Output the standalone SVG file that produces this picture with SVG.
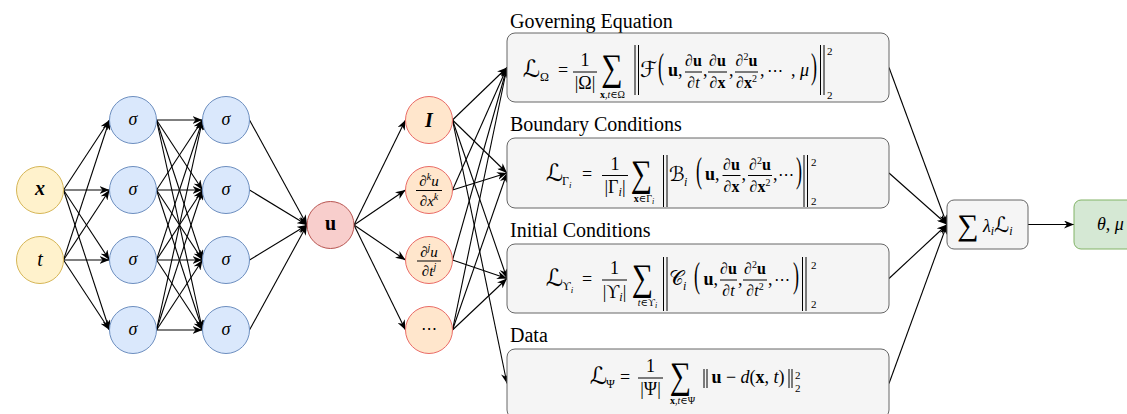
<svg xmlns="http://www.w3.org/2000/svg" width="1127" height="414" viewBox="0 0 1127 414">
<defs>
<marker id="a" viewBox="0 0 10 8" refX="10" refY="4" markerWidth="10" markerHeight="8" markerUnits="userSpaceOnUse" orient="auto"><path d="M0,0 L10,4 L0,8 L3,4 z" fill="#000"/></marker>
<style>
.ln{stroke:#000;stroke-width:1.1;marker-end:url(#a);fill:none}
.bar{stroke:#000;stroke-width:1}
.nb{stroke:#000;stroke-width:1}
.m{font-family:"Liberation Serif","DejaVu Serif","DejaVu Sans",serif;font-size:18px;fill:#000}
.f{font-size:16px}
.s{font-size:12px}
.sg{font-size:30px}
.it{font-style:italic}
.bf{font-weight:bold}
.c{text-anchor:middle}
.ttl{font-family:"Liberation Serif","Times New Roman",serif;font-size:20px;fill:#000}
.box{fill:#f5f5f5;stroke:#666666;stroke-width:1}
.inp{fill:#fff2cc;stroke:#d6b656;stroke-width:1}
.hid{fill:#dae8fc;stroke:#6c8ebf;stroke-width:1}
.uu{fill:#f8cecc;stroke:#b85450;stroke-width:1}
.der{fill:#ffe6cc;stroke:#ea6b66;stroke-width:1}
.out{fill:#d5e8d4;stroke:#82b366;stroke-width:1}
</style>
</defs>
<rect width="1127" height="414" fill="#ffffff"/>

<g id="connectors">
<line class="ln" x1="63.5" y1="190" x2="109.5" y2="120"/>
<line class="ln" x1="63.5" y1="190" x2="109.5" y2="190"/>
<line class="ln" x1="63.5" y1="190" x2="109.5" y2="260"/>
<line class="ln" x1="63.5" y1="190" x2="109.5" y2="330"/>
<line class="ln" x1="63.5" y1="260" x2="109.5" y2="120"/>
<line class="ln" x1="63.5" y1="260" x2="109.5" y2="190"/>
<line class="ln" x1="63.5" y1="260" x2="109.5" y2="260"/>
<line class="ln" x1="63.5" y1="260" x2="109.5" y2="330"/>

<line class="ln" x1="156.5" y1="120" x2="202.5" y2="120"/>
<line class="ln" x1="156.5" y1="120" x2="202.5" y2="190"/>
<line class="ln" x1="156.5" y1="120" x2="202.5" y2="260"/>
<line class="ln" x1="156.5" y1="120" x2="202.5" y2="330"/>
<line class="ln" x1="156.5" y1="190" x2="202.5" y2="120"/>
<line class="ln" x1="156.5" y1="190" x2="202.5" y2="190"/>
<line class="ln" x1="156.5" y1="190" x2="202.5" y2="260"/>
<line class="ln" x1="156.5" y1="190" x2="202.5" y2="330"/>
<line class="ln" x1="156.5" y1="260" x2="202.5" y2="120"/>
<line class="ln" x1="156.5" y1="260" x2="202.5" y2="190"/>
<line class="ln" x1="156.5" y1="260" x2="202.5" y2="260"/>
<line class="ln" x1="156.5" y1="260" x2="202.5" y2="330"/>
<line class="ln" x1="156.5" y1="330" x2="202.5" y2="120"/>
<line class="ln" x1="156.5" y1="330" x2="202.5" y2="190"/>
<line class="ln" x1="156.5" y1="330" x2="202.5" y2="260"/>
<line class="ln" x1="156.5" y1="330" x2="202.5" y2="330"/>

<line class="ln" x1="249.5" y1="120" x2="307" y2="225"/>
<line class="ln" x1="249.5" y1="190" x2="307" y2="225"/>
<line class="ln" x1="249.5" y1="260" x2="307" y2="225"/>
<line class="ln" x1="249.5" y1="330" x2="307" y2="225"/>

<line class="ln" x1="354" y1="225" x2="405.5" y2="120"/>
<line class="ln" x1="354" y1="225" x2="405.5" y2="190"/>
<line class="ln" x1="354" y1="225" x2="405.5" y2="260"/>
<line class="ln" x1="354" y1="225" x2="405.5" y2="330"/>

<line class="ln" x1="452.5" y1="120" x2="507" y2="67.5"/>
<line class="ln" x1="452.5" y1="120" x2="507" y2="173"/>
<line class="ln" x1="452.5" y1="120" x2="507" y2="278.5"/>
<line class="ln" x1="452.5" y1="120" x2="507" y2="383.5"/>
<line class="ln" x1="452.5" y1="190" x2="507" y2="67.5"/>
<line class="ln" x1="452.5" y1="190" x2="507" y2="173"/>
<line class="ln" x1="452.5" y1="260" x2="507" y2="67.5"/>
<line class="ln" x1="452.5" y1="260" x2="507" y2="278.5"/>
<line class="ln" x1="452.5" y1="330" x2="507" y2="67.5"/>
<line class="ln" x1="452.5" y1="330" x2="507" y2="173"/>
<line class="ln" x1="452.5" y1="330" x2="507" y2="278.5"/>

<line class="ln" x1="889" y1="67.5" x2="947" y2="224.5"/>
<line class="ln" x1="889" y1="173" x2="947" y2="224.5"/>
<line class="ln" x1="889" y1="278.5" x2="947" y2="224.5"/>
<line class="ln" x1="889" y1="383.5" x2="947" y2="224.5"/>

<line class="ln" x1="1028" y1="224.5" x2="1074" y2="224.5"/>
</g>

<g id="in-x"><circle class="inp" cx="40" cy="190" r="23.5"/><text class="m c it bf" x="40" y="195" style="font-size:20px">x</text></g>
<g id="in-t"><circle class="inp" cx="40" cy="260" r="23.5"/><text class="m c it" x="40" y="266" style="font-size:20px">t</text></g>

<g id="h1-1"><circle class="hid" cx="133" cy="120" r="23.5"/><text class="m c it" x="133" y="125">σ</text></g>
<g id="h1-2"><circle class="hid" cx="133" cy="190" r="23.5"/><text class="m c it" x="133" y="195">σ</text></g>
<g id="h1-3"><circle class="hid" cx="133" cy="260" r="23.5"/><text class="m c it" x="133" y="265">σ</text></g>
<g id="h1-4"><circle class="hid" cx="133" cy="330" r="23.5"/><text class="m c it" x="133" y="335">σ</text></g>
<g id="h2-1"><circle class="hid" cx="226" cy="120" r="23.5"/><text class="m c it" x="226" y="125">σ</text></g>
<g id="h2-2"><circle class="hid" cx="226" cy="190" r="23.5"/><text class="m c it" x="226" y="195">σ</text></g>
<g id="h2-3"><circle class="hid" cx="226" cy="260" r="23.5"/><text class="m c it" x="226" y="265">σ</text></g>
<g id="h2-4"><circle class="hid" cx="226" cy="330" r="23.5"/><text class="m c it" x="226" y="335">σ</text></g>

<g id="u"><circle class="uu" cx="330.5" cy="225" r="23.5"/><text class="m c bf" x="330.5" y="230" style="font-size:20px">u</text></g>

<g id="d-id"><circle class="der" cx="429" cy="120" r="23.5"/><text class="m c it bf" x="429" y="127" style="font-size:20px">I</text></g>
<g id="d-x"><circle class="der" cx="429" cy="190" r="23.5"/>
<text class="m c" x="429" y="186" style="font-size:15px">∂<tspan style="font-size:10px" dy="-6" class="it">k</tspan><tspan dy="6" class="it">u</tspan></text>
<line class="bar" x1="416" y1="190.5" x2="442" y2="190.5"/>
<text class="m c" x="429" y="206" style="font-size:15px">∂<tspan class="it">x</tspan><tspan style="font-size:10px" dy="-6" class="it">k</tspan></text></g>
<g id="d-t"><circle class="der" cx="429" cy="260" r="23.5"/>
<text class="m c" x="429" y="256.5" style="font-size:15px">∂<tspan style="font-size:10px" dy="-6" class="it">j</tspan><tspan dy="6" class="it">u</tspan></text>
<line class="bar" x1="417" y1="261" x2="441" y2="261"/>
<text class="m c" x="429" y="276" style="font-size:15px">∂<tspan class="it">t</tspan><tspan style="font-size:10px" dy="-6" class="it">j</tspan></text></g>
<g id="d-more"><circle class="der" cx="429" cy="330" r="23.5"/><text class="m c" x="429" y="334" style="font-size:16px">⋯</text></g>

<g id="governing">
<text class="ttl" x="510" y="28">Governing Equation</text>
<rect class="box" x="507" y="33" width="382" height="69" rx="8"/>
<text class="m" x="523" y="77" style="font-size:24px">ℒ</text>
<text class="m s" x="540" y="81">Ω</text>
<text class="m c" x="563" y="76">=</text>
<text class="m c" x="585" y="66">1</text>
<line class="bar" x1="573" y1="72" x2="597" y2="72"/>
<text class="m c" x="585" y="89">|Ω|</text>
<text class="m c sg" transform="translate(612,80) scale(1,1.25)">∑</text>
<text class="m c" x="612.5" y="97.5" style="font-size:10px"><tspan class="bf">x</tspan>,<tspan class="it">t</tspan>∈Ω</text>
<line class="nb" x1="635" y1="45" x2="635" y2="95"/><line class="nb" x1="638.5" y1="45" x2="638.5" y2="95"/>
<text class="m" x="640" y="77" style="font-size:22px">ℱ</text>
<text class="m c" transform="translate(661,78) scale(1,2)">(</text>
<text class="m" x="668" y="76"><tspan class="bf">u</tspan>,</text>
<text class="m c f" x="693.5" y="66">∂<tspan class="bf">u</tspan></text>
<line class="bar" x1="685" y1="72" x2="702" y2="72"/>
<text class="m c f" x="693.5" y="88">∂<tspan class="it">t</tspan></text>
<text class="m" x="703" y="76">,</text>
<text class="m c f" x="717.5" y="66">∂<tspan class="bf">u</tspan></text>
<line class="bar" x1="708" y1="72" x2="727" y2="72"/>
<text class="m c f" x="717.5" y="88">∂<tspan class="bf">x</tspan></text>
<text class="m" x="729" y="76">,</text>
<text class="m c f" x="746.5" y="66">∂<tspan style="font-size:10px" dy="-6">2</tspan><tspan class="bf" dy="6">u</tspan></text>
<line class="bar" x1="735" y1="72" x2="758" y2="72"/>
<text class="m c f" x="746.5" y="88">∂<tspan class="bf">x</tspan><tspan style="font-size:10px" dy="-6">2</tspan></text>
<text class="m" x="760" y="76">,</text>
<text class="m" x="767" y="76" style="font-size:16px">⋯</text>
<text class="m" x="791" y="76">,</text>
<text class="m it" x="800" y="76">μ</text>
<text class="m c" transform="translate(814,78) scale(1,2)">)</text>
<line class="nb" x1="820.5" y1="45" x2="820.5" y2="95"/><line class="nb" x1="824" y1="45" x2="824" y2="95"/>
<text class="m" x="827" y="55" style="font-size:11px">2</text>
<text class="m" x="827" y="99" style="font-size:11px">2</text>
</g>

<g id="boundary">
<text class="ttl" x="510" y="131">Boundary Conditions</text>
<rect class="box" x="507" y="138" width="382" height="70" rx="8"/>
<text class="m" x="546" y="181" style="font-size:24px">ℒ</text>
<text class="m s" x="562" y="185">Γ<tspan class="it" style="font-size:9px" dy="3">i</tspan></text>
<text class="m c" x="587" y="180">=</text>
<text class="m c" x="615" y="169.5">1</text>
<line class="bar" x1="602" y1="175.5" x2="628" y2="175.5"/>
<text class="m c" x="615" y="193">|Γ<tspan class="it s" dy="3">i</tspan><tspan dy="-3">|</tspan></text>
<text class="m c sg" transform="translate(641.5,186) scale(1,1.25)">∑</text>
<text class="m c" x="644" y="202" style="font-size:10px"><tspan class="bf">x</tspan>∈Γ<tspan class="it" style="font-size:8px" dy="2">i</tspan></text>
<line class="nb" x1="663.5" y1="155" x2="663.5" y2="207"/><line class="nb" x1="667" y1="155" x2="667" y2="207"/>
<text class="m" x="669" y="181" style="font-size:20px">ℬ</text>
<text class="m s it" x="684" y="186">i</text>
<text class="m c" transform="translate(699,182) scale(1,2)">(</text>
<text class="m" x="705" y="180"><tspan class="bf">u</tspan>,</text>
<text class="m c f" x="731.5" y="169.5">∂<tspan class="bf">u</tspan></text>
<line class="bar" x1="722.5" y1="175.5" x2="740.5" y2="175.5"/>
<text class="m c f" x="731.5" y="191.5">∂<tspan class="bf">x</tspan></text>
<text class="m" x="741.5" y="180">,</text>
<text class="m c f" x="760" y="169.5">∂<tspan style="font-size:10px" dy="-6">2</tspan><tspan class="bf" dy="6">u</tspan></text>
<line class="bar" x1="748" y1="175.5" x2="772" y2="175.5"/>
<text class="m c f" x="760" y="191.5">∂<tspan class="bf">x</tspan><tspan style="font-size:10px" dy="-6">2</tspan></text>
<text class="m" x="773" y="180">,</text>
<text class="m" x="778" y="180" style="font-size:16px">⋯</text>
<text class="m c" transform="translate(799,182) scale(1,2)">)</text>
<line class="nb" x1="804" y1="155" x2="804" y2="207"/><line class="nb" x1="807.5" y1="155" x2="807.5" y2="207"/>
<text class="m" x="811" y="166" style="font-size:11px">2</text>
<text class="m" x="811" y="205" style="font-size:11px">2</text>
</g>

<g id="initial">
<text class="ttl" x="510" y="237">Initial Conditions</text>
<rect class="box" x="507" y="244" width="382" height="69" rx="8"/>
<text class="m" x="546" y="285.5" style="font-size:24px">ℒ</text>
<text class="m s" x="562" y="289.5">ϒ<tspan class="it" style="font-size:9px" dy="3">i</tspan></text>
<text class="m c" x="587" y="284.5">=</text>
<text class="m c" x="614.5" y="274">1</text>
<line class="bar" x1="602" y1="280" x2="627" y2="280"/>
<text class="m c" x="614.5" y="297.5">|ϒ<tspan class="it s" dy="3">i</tspan><tspan dy="-3">|</tspan></text>
<text class="m c sg" transform="translate(642.5,290) scale(1,1.25)">∑</text>
<text class="m c" x="647.5" y="306" style="font-size:10px"><tspan class="it">t</tspan>∈ϒ<tspan class="it" style="font-size:8px" dy="2">i</tspan></text>
<line class="nb" x1="663.5" y1="257" x2="663.5" y2="311"/><line class="nb" x1="667" y1="257" x2="667" y2="311"/>
<text class="m" x="669" y="285" style="font-size:20px">𝒞</text>
<text class="m s it" x="683" y="290">i</text>
<text class="m c" transform="translate(697,286.5) scale(1,2)">(</text>
<text class="m" x="703.5" y="284.5"><tspan class="bf">u</tspan>,</text>
<text class="m c f" x="728.5" y="274">∂<tspan class="bf">u</tspan></text>
<line class="bar" x1="720" y1="280" x2="737" y2="280"/>
<text class="m c f" x="728.5" y="296">∂<tspan class="it">t</tspan></text>
<text class="m" x="738" y="284.5">,</text>
<text class="m c f" x="755" y="274">∂<tspan style="font-size:10px" dy="-6">2</tspan><tspan class="bf" dy="6">u</tspan></text>
<line class="bar" x1="743" y1="280" x2="767" y2="280"/>
<text class="m c f" x="755" y="296">∂<tspan class="it">t</tspan><tspan style="font-size:10px" dy="-6">2</tspan></text>
<text class="m" x="768" y="284.5">,</text>
<text class="m" x="774" y="284.5" style="font-size:16px">⋯</text>
<text class="m c" transform="translate(796,286.5) scale(1,2)">)</text>
<line class="nb" x1="802.5" y1="257" x2="802.5" y2="311"/><line class="nb" x1="806" y1="257" x2="806" y2="311"/>
<text class="m" x="811" y="269" style="font-size:11px">2</text>
<text class="m" x="811" y="308" style="font-size:11px">2</text>
</g>

<g id="data">
<text class="ttl" x="510" y="342">Data</text>
<rect class="box" x="507" y="349" width="382" height="69" rx="8"/>
<text class="m" x="590" y="384" style="font-size:24px">ℒ</text>
<text class="m s" x="606" y="388">Ψ</text>
<text class="m c" x="625" y="383">=</text>
<text class="m c" x="650.5" y="372">1</text>
<line class="bar" x1="638" y1="378" x2="663" y2="378"/>
<text class="m c" x="650.5" y="395">|Ψ|</text>
<text class="m c sg" transform="translate(680.5,388) scale(1,1.25)">∑</text>
<text class="m c" x="682.5" y="404" style="font-size:10px"><tspan class="bf">x</tspan>,<tspan class="it">t</tspan>∈Ψ</text>
<line class="nb" x1="704" y1="369" x2="704" y2="388"/><line class="nb" x1="707" y1="369" x2="707" y2="388"/>
<text class="m c" x="748" y="383"><tspan class="bf">u</tspan> − <tspan class="it">d</tspan>(<tspan class="bf">x</tspan>, <tspan class="it">t</tspan>)</text>
<line class="nb" x1="789" y1="369" x2="789" y2="388"/><line class="nb" x1="792" y1="369" x2="792" y2="388"/>
<text class="m" x="795" y="379" style="font-size:11px">2</text>
<text class="m" x="795" y="392" style="font-size:11px">2</text>
</g>

<g id="sum">
<rect class="box" x="947" y="200" width="81" height="49" rx="7"/>
<text class="m c" x="968" y="235" style="font-size:30px">∑</text>
<text class="m" x="983" y="232"><tspan class="it">λ</tspan><tspan class="it s" dy="3">i</tspan><tspan dy="-3" style="font-size:21px">ℒ</tspan><tspan class="it s" dy="3">i</tspan></text>
</g>

<g id="output">
<rect class="out" x="1074" y="200" width="80" height="49" rx="7"/>
<text class="m it" x="1097" y="230">θ<tspan style="font-style:normal">, </tspan>μ</text>
</g>
</svg>
